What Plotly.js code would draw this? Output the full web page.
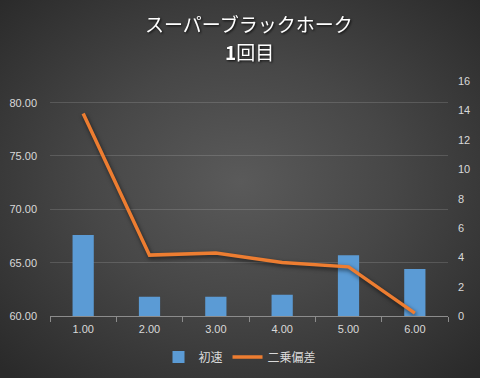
<!DOCTYPE html>
<html>
<head>
<meta charset="utf-8">
<script src="https://cdn.plot.ly/plotly-3.0.1.min.js"></script>
<style>
html,body{margin:0;padding:0;background:#262626;}
#chart{width:480px;height:378px;background:radial-gradient(ellipse 70% 70% at 50% 48%, #5a5a5a 0%, #474747 45%, #2a2a2a 100%);}
.scatterlayer .js-line{filter:drop-shadow(1px 2px 2px rgba(0,0,0,0.6));}
.annotation-text{filter:drop-shadow(1px 1px 1px rgba(0,0,0,0.8));}
</style>
</head>
<body>
<div id="chart"></div>
<script>
var categories = ["1.00", "2.00", "3.00", "4.00", "5.00", "6.00"];
var speedValues = [67.6, 61.8, 61.8, 62.0, 65.7, 64.4];
var sqDevValues = [13.8, 4.15, 4.3, 3.65, 3.35, 0.2];
var leftTicks = [60, 65, 70, 75, 80];
var leftTickText = ["60.00", "65.00", "70.00", "75.00", "80.00"];
var rightTicks = [0, 2, 4, 6, 8, 10, 12, 14, 16];
var titleLine1 = "スーパーブラックホーク";
var titleLine2 = "<b>1</b>回目";

var txt = "#d9d9d9";
var fontFam = "'Liberation Sans', 'Noto Sans CJK JP', sans-serif";
var jpFam = "'Noto Sans CJK JP', sans-serif";

var traces = [
  {
    type: "bar", name: "初速", x: categories, y: speedValues,
    marker: {color: "#5b9bd5"}, yaxis: "y", hoverinfo: "skip"
  },
  {
    type: "scatter", mode: "lines", name: "二乗偏差", x: categories, y: sqDevValues,
    line: {color: "#ed7d31", width: 3.5}, yaxis: "y2", hoverinfo: "skip"
  }
];

var layout = {
  width: 480, height: 378,
  margin: {l: 50, r: 32, t: 81, b: 62, autoexpand: false},
  paper_bgcolor: "rgba(0,0,0,0)",
  plot_bgcolor: "rgba(0,0,0,0)",
  font: {family: fontFam, color: txt, size: 11},
  showlegend: true,
  bargap: 0.68,
  annotations: [
    {text: titleLine1, xref: "paper", yref: "paper", x: 0.5, y: (316 - 24) / 235,
     xanchor: "center", yanchor: "middle", showarrow: false,
     font: {family: jpFam, size: 19, color: "#ffffff"}},
    {text: titleLine2, xref: "paper", yref: "paper", x: 0.5, y: (316 - 51) / 235,
     xanchor: "center", yanchor: "middle", showarrow: false,
     font: {family: jpFam, size: 19, color: "#ffffff"}}
  ],
  xaxis: {
    type: "category",
    showgrid: false,
    showline: true, linecolor: "#8c8c8c", linewidth: 1,
    ticks: "outside", tickson: "boundaries", ticklen: 5, tickcolor: "#8c8c8c",
    tickfont: {size: 11, color: txt, family: fontFam},
    ticklabelstandoff: 3,
    zeroline: false, fixedrange: true, automargin: false
  },
  yaxis: {
    range: [60, 82.03],
    tickvals: leftTicks, ticktext: leftTickText,
    showgrid: true, gridcolor: "rgba(255,255,255,0.14)", gridwidth: 1,
    zeroline: false, showline: false, ticks: "",
    tickfont: {size: 11, color: txt, family: fontFam},
    ticklabelstandoff: 12,
    fixedrange: true, automargin: false
  },
  yaxis2: {
    overlaying: "y", side: "right",
    range: [0, 16.02],
    tickvals: rightTicks,
    showgrid: false, zeroline: false, showline: false, ticks: "",
    tickfont: {size: 11, color: txt, family: fontFam},
    ticklabelstandoff: 9,
    fixedrange: true, automargin: false
  },
  legend: {
    orientation: "h", x: 0.5, xanchor: "center",
    xref: "container", yref: "container", y: (378 - 357) / 378, yanchor: "middle",
    font: {family: jpFam, size: 12, color: txt},
    bgcolor: "rgba(0,0,0,0)"
  }
};

Plotly.newPlot("chart", traces, layout, {displayModeBar: false, staticPlot: true});
</script>
</body>
</html>
